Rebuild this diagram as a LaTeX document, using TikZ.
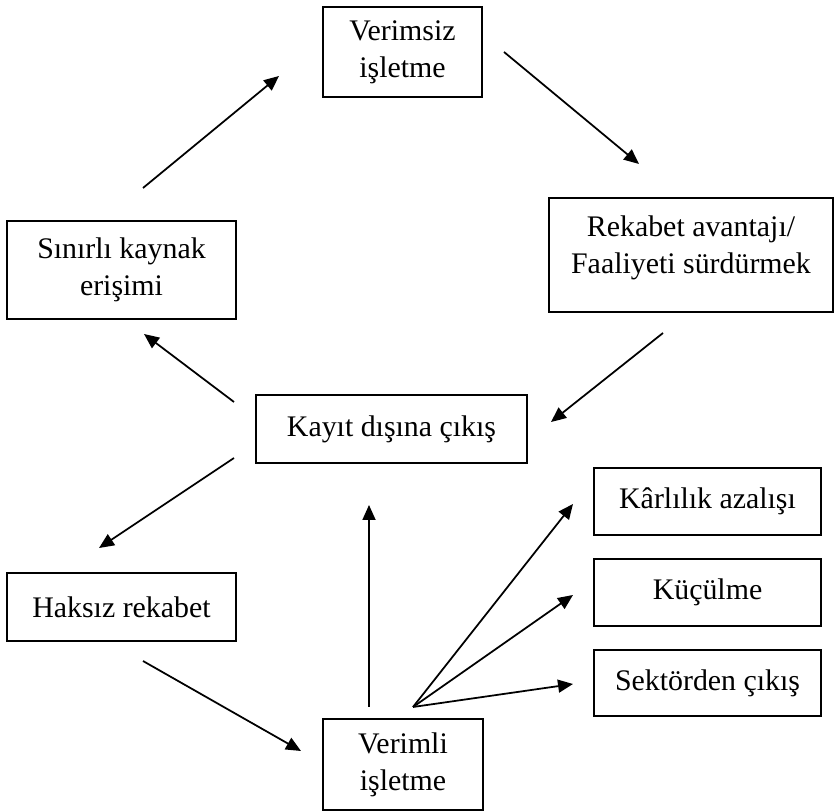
\documentclass[tikz,border=0pt]{standalone}
\usepackage{fontspec}
\setmainfont{Liberation Serif}
\usepackage{tikz}
\usetikzlibrary{positioning, arrows, arrows.meta}

\begin{document}
\begin{tikzpicture}[
    box/.style={draw, line width=0.6pt, align=center, inner sep=0.1cm,
                font=\fontsize{8.5}{10.5}\selectfont},
    arr/.style={-{Triangle[length=0.15cm, width=0.13cm]}, line width=0.5pt}
]
\useasboundingbox (0,0) rectangle (8.35,8.12);

% Boxes of the cycle
\node[box, minimum width=1.59cm, minimum height=0.90cm] (verimsiz) at (4.025,7.60) {Verimsiz\\işletme};
\node[box, minimum width=2.84cm, minimum height=1.14cm] (rekabet) at (6.91,5.57) {Rekabet avantajı/\\Faaliyeti sürdürmek\\[-0.16cm]\mbox{}};
\node[box, minimum width=2.29cm, minimum height=0.98cm] (sinirli) at (1.215,5.42) {Sınırlı kaynak\\erişimi};
\node[box, minimum width=2.71cm, minimum height=0.68cm] (kayit) at (3.915,3.83) {Kayıt dışına çıkış};
\node[box, minimum width=2.29cm, minimum height=0.68cm] (haksiz) at (1.215,2.05) {Haksız rekabet};
\node[box, minimum width=1.60cm, minimum height=0.91cm] (verimli) at (4.03,0.475) {Verimli\\işletme};

% Outcomes on the right
\node[box, minimum width=2.27cm, minimum height=0.67cm] (karlilik) at (7.075,3.105) {Kârlılık azalışı};
\node[box, minimum width=2.27cm, minimum height=0.67cm] (kuculme) at (7.075,2.195) {Küçülme};
\node[box, minimum width=2.27cm, minimum height=0.66cm] (sektorden) at (7.075,1.29) {Sektörden çıkış};

% Arrow end points
\coordinate (s1) at (1.43,6.24);  \coordinate (e1) at (2.79,7.36);
\coordinate (s2) at (5.04,7.60);  \coordinate (e2) at (6.39,6.48);
\coordinate (s3) at (6.63,4.79);  \coordinate (e3) at (5.51,3.90);
\coordinate (s4) at (2.34,4.10);  \coordinate (e4) at (1.44,4.78);
\coordinate (s5) at (2.34,3.54);  \coordinate (e5) at (0.99,2.64);
\coordinate (s6) at (1.43,1.51);  \coordinate (e6) at (3.01,0.61);
\coordinate (s7) at (3.69,1.05);  \coordinate (e7) at (3.69,3.07);
\coordinate (fan) at (4.13,1.05);
\coordinate (ek) at (5.73,3.08);
\coordinate (eu) at (5.73,2.17);
\coordinate (es) at (5.73,1.28);

% Arrows
\draw[arr] (s1) -- (e1);
\draw[arr] (s2) -- (e2);
\draw[arr] (s3) -- (e3);
\draw[arr] (s4) -- (e4);
\draw[arr] (s5) -- (e5);
\draw[arr] (s6) -- (e6);
\draw[arr] (s7) -- (e7);
\draw[arr] (fan) -- (ek);
\draw[arr] (fan) -- (eu);
\draw[arr] (fan) -- (es);

\end{tikzpicture}
\end{document}
